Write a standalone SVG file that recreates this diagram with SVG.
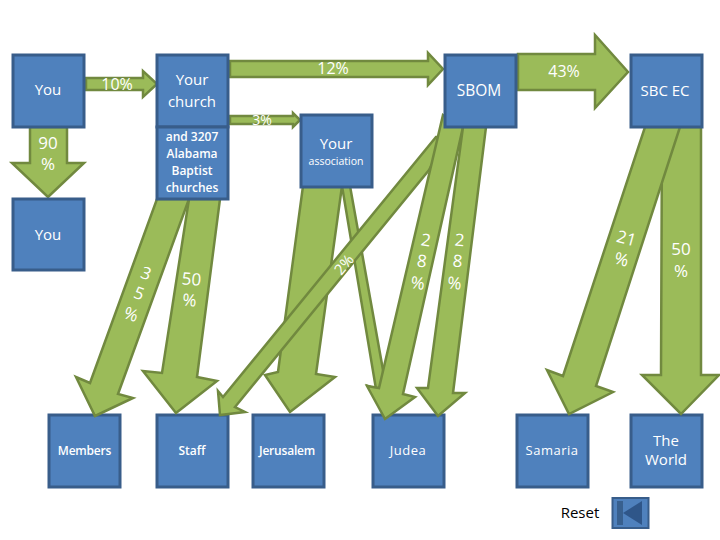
<svg xmlns="http://www.w3.org/2000/svg" width="720" height="540" viewBox="0 0 720 540">
<style>
.b{fill:#4F81BD;stroke:#385D8A;stroke-width:3}
.a{fill:#9BBB59;stroke:#71893F;stroke-width:2.5;stroke-linejoin:miter}
text{font-family:"Open Sans","Liberation Sans",sans-serif;fill:#fff;text-anchor:middle;font-size:15px}
.l{font-size:17px;fill:#fff;font-weight:400}
.s{font-size:12px;font-weight:600}
.t{font-size:12px;font-weight:600;letter-spacing:-.2px}
</style>
<rect width="720" height="540" fill="#fff"/>
<g id="n-members"><rect class="b" x="49" y="415" width="71" height="72"/><text class="t" x="84.500" y="455">Members</text></g>
<g id="n-staff"><rect class="b" x="157" y="415" width="71" height="72"/><text class="s" x="192" y="455">Staff</text></g>
<g id="n-jerusalem"><rect class="b" x="253" y="415" width="71" height="72"/><text class="t" x="287" y="455">Jerusalem</text></g>
<g id="n-judea"><rect class="b" x="373" y="415" width="71" height="72"/><text x="408" y="455" style="font-size:13px;letter-spacing:.5px">Judea</text></g>
<g id="n-samaria"><rect class="b" x="517" y="415" width="71" height="72"/><text x="552" y="455" style="font-size:13px;letter-spacing:.5px">Samaria</text></g>
<g id="n-world"><rect class="b" x="631" y="415" width="71" height="72"/><text x="666" y="446">The</text><text x="666" y="465">World</text></g>
<g id="connectors">
<polygon class="a" points="86,78 143,78 143,71 157,84 143,97 143,90 86,90"/>
<polygon class="a" points="230,61 428,61 428,53 443,69 428,85 428,77 230,77"/>
<polygon class="a" points="230,116 293,116 293,113 300,120 293,127 293,124 230,124"/>
<polygon class="a" points="518,54 595,54 595,35 628,72 595,108 595,90 518,90"/>
<polygon class="a" points="30,127 67,127 67,163 84,163 48,197 12,163 30,163"/>
<polygon class="a" points="189,199 220,199 197,377 217,381 176,413 143,371 162,373"/>
<polygon class="a" points="157,199 189,199 118,394 133,398 95,416 76,377 90,383"/>
<polygon class="a" points="303,186 342,186 316,374 335,377 290,412 265,375 278,372"/>
<polygon class="a" points="342,186 350,186 383,370 384,386 396,384 385,417 368,386 376,389"/>
<polygon class="a" points="436,137 446,137 429,170 235,407 245,412 220,415 218,391 223,397"/>
<polygon class="a" points="443,115 463,127 403,394 415,397 385,419 367,386 379,388"/>
<polygon class="a" points="463,127 486,127 453,393 465,393 438,416 417,388 428,388"/>
<polygon class="a" points="662,127 701,127 701,375 719,375 681,414 642,375 661,375"/>
<polygon class="a" points="645,127 680,127 596,386 613,392 569,414 547,370 563,376"/>
</g>
<g id="n-you"><rect class="b" x="13" y="55" width="71" height="72"/><text x="48" y="95">You</text></g>
<g id="n-church"><rect class="b" x="157" y="55" width="71" height="72"/><text x="192" y="85">Your</text><text x="192" y="107">church</text></g>
<g id="n-3207"><rect class="b" x="157" y="127" width="71" height="72"/><text class="s" x="192" y="141">and 3207</text><text class="s" x="192" y="158">Alabama</text><text class="s" x="192" y="175">Baptist</text><text class="s" x="192" y="192">churches</text></g>
<g id="n-you2"><rect class="b" x="13" y="199" width="71" height="71"/><text x="48" y="240">You</text></g>
<g id="n-assoc"><rect class="b" x="301" y="115" width="71" height="72"/><text x="336" y="149">Your</text><text x="336" y="165" style="font-size:10.500px">association</text></g>
<g id="n-sbom"><rect class="b" x="445" y="55" width="71" height="72"/><text x="479" y="96" style="font-size:15.500px">SBOM</text></g>
<g id="n-sbcec"><rect class="b" x="631" y="55" width="71" height="72"/><text x="665" y="96">SBC EC</text></g>
<g id="labels">
<text class="l" x="117" y="90" style="font-size:16px">10%</text>
<text class="l" x="333" y="74" style="font-size:16px">12%</text>
<text class="l" x="262" y="125" style="font-size:14px">3%</text>
<text class="l" x="564" y="77" style="font-size:16px">43%</text>
<text class="l" x="48" y="149">90</text><text class="l" x="48" y="170">%</text>
<text class="l" transform="translate(144,279) rotate(20)">3</text>
<text class="l" transform="translate(137,299) rotate(20)">5</text>
<text class="l" transform="translate(129,320) rotate(20)">%</text>
<text class="l" transform="translate(191,285) rotate(5)">50</text>
<text class="l" transform="translate(189,306) rotate(5)">%</text>
<text class="l" transform="translate(348,268) rotate(-50)" style="font-size:15px">2%</text>
<text class="l" transform="translate(425,246) rotate(8)">2</text>
<text class="l" transform="translate(421,267) rotate(8)">8</text>
<text class="l" transform="translate(417,289) rotate(8)">%</text>
<text class="l" transform="translate(459,246) rotate(5)">2</text>
<text class="l" transform="translate(457,267) rotate(5)">8</text>
<text class="l" transform="translate(454,289) rotate(5)">%</text>
<text class="l" transform="translate(625,244) rotate(15)">21</text>
<text class="l" transform="translate(620,265) rotate(15)">%</text>
<text class="l" x="681" y="255">50</text><text class="l" x="681" y="277">%</text>
</g>
<g id="n-reset">
<text x="580" y="518" style="fill:#000">Reset</text>
<rect x="612.500" y="498" width="36" height="30" fill="#4F81BD" stroke="#385D8A" stroke-width="2"/>
<rect x="617" y="501" width="6" height="24" fill="#38608f"/>
<polygon points="623,513 642,501 642,525" fill="#2f5689"/>
</g>
</svg>
